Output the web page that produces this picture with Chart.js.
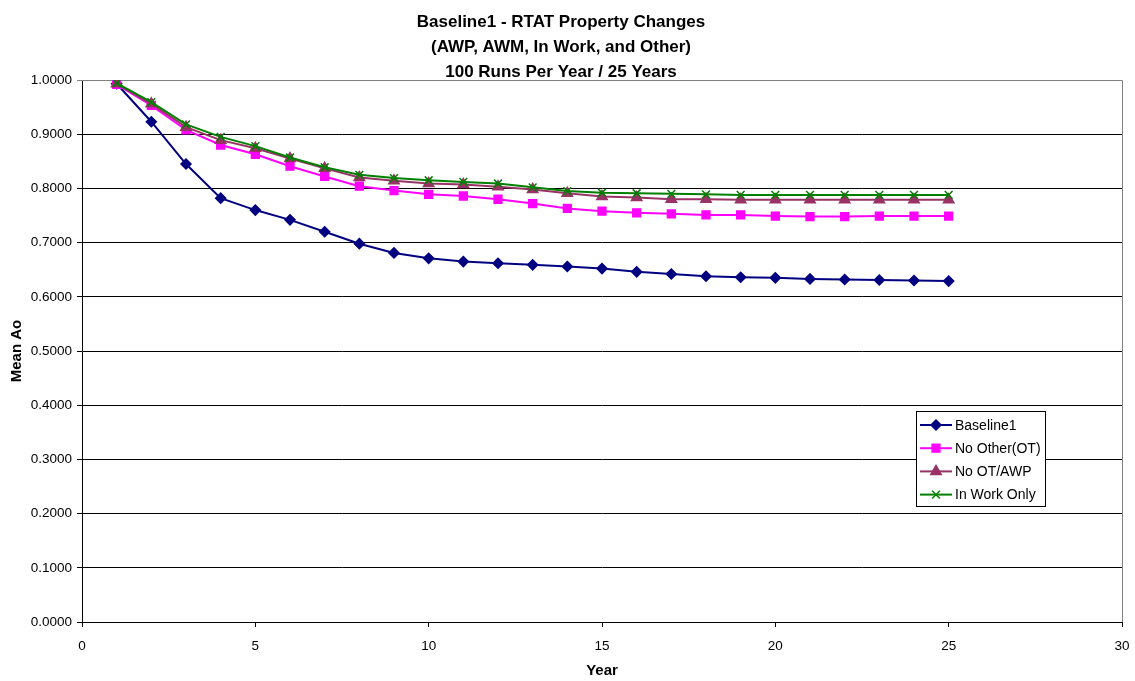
<!DOCTYPE html>
<html>
<head>
<meta charset="utf-8">
<title>Baseline1 - RTAT Property Changes</title>
<script src="https://cdn.jsdelivr.net/npm/chart.js@4/dist/chart.umd.min.js"></script>
<style>
  html, body { margin: 0; padding: 0; background: #ffffff; }
  #wrap { width: 1135px; height: 681px; }
</style>
</head>
<body>
<div id="wrap"><canvas id="aoChart" width="1135" height="681"></canvas></div>
<script>
// Mean Ao per simulation year, one array per scenario
const years = [1, 2, 3, 4, 5, 6, 7, 8, 9, 10, 11, 12, 13, 14, 15, 16, 17, 18, 19, 20, 21, 22, 23, 24, 25];
const baseline1 = [0.993, 0.923, 0.845, 0.782, 0.760, 0.742, 0.720, 0.698, 0.681, 0.671, 0.665, 0.662, 0.659,
  0.656, 0.652, 0.646, 0.642, 0.638, 0.636, 0.635, 0.633, 0.632, 0.631, 0.630, 0.629];
const noOther = [0.992, 0.953, 0.908, 0.880, 0.863, 0.841, 0.822, 0.804, 0.796, 0.789, 0.786, 0.780, 0.772,
  0.763, 0.758, 0.755, 0.753, 0.751, 0.751, 0.749, 0.748, 0.748, 0.749, 0.749, 0.749];
const noOtAwp = [0.993, 0.956, 0.913, 0.889, 0.874, 0.855, 0.837, 0.820, 0.814, 0.809, 0.807, 0.803, 0.798,
  0.791, 0.785, 0.783, 0.780, 0.780, 0.779, 0.779, 0.779, 0.779, 0.779, 0.779, 0.779];
const inWorkOnly = [0.994, 0.959, 0.918, 0.895, 0.878, 0.857, 0.839, 0.825, 0.819, 0.815, 0.812, 0.809, 0.802,
  0.795, 0.792, 0.791, 0.790, 0.789, 0.788, 0.788, 0.788, 0.788, 0.788, 0.788, 0.788];

const seriesNames = ["Baseline1", "No Other(OT)", "No OT/AWP", "In Work Only"];
const titleLines = [
  "Baseline1 - RTAT Property Changes",
  "(AWP, AWM, In Work, and Other)",
  "100 Runs Per Year / 25 Years",
];

function toPoints(values) {
  return values.map(function (v, i) {
    return { x: years[i], y: v };
  });
}

// gray frame on the top and right of the plot area
const plotFrame = {
  id: "plotFrame",
  beforeDatasetsDraw(chart) {
    const { ctx, chartArea: a } = chart;
    ctx.save();
    ctx.strokeStyle = "#808080";
    ctx.lineWidth = 1;
    ctx.beginPath();
    ctx.moveTo(a.left, a.top + 0.5);
    ctx.lineTo(a.right + 0.5, a.top + 0.5);
    ctx.lineTo(a.right + 0.5, a.bottom);
    ctx.stroke();
    ctx.restore();
  },
};

// boxed legend sitting inside the plot area, lower right
const boxLegend = {
  id: "boxLegend",
  afterDraw(chart) {
    const ctx = chart.ctx;
    const x = 916, y = 411, w = 129, h = 95, row = 23.2;
    ctx.save();
    ctx.fillStyle = "#ffffff";
    ctx.fillRect(x, y, w, h);
    ctx.strokeStyle = "#000000";
    ctx.lineWidth = 1;
    ctx.strokeRect(x + 0.5, y + 0.5, w, h);
    ctx.font = "14px 'Liberation Sans', Arial, sans-serif";
    ctx.textBaseline = "middle";
    chart.data.datasets.forEach(function (ds, i) {
      const cy = y + 14 + i * row;
      ctx.strokeStyle = ds.borderColor;
      ctx.lineWidth = 2;
      ctx.beginPath();
      ctx.moveTo(x + 4, cy);
      ctx.lineTo(x + 36, cy);
      ctx.stroke();
      ctx.fillStyle = ds.pointBackgroundColor;
      ctx.strokeStyle = ds.pointBorderColor;
      ctx.lineWidth = ds.pointBorderWidth;
      Chart.helpers.drawPoint(ctx, {
        pointStyle: ds.pointStyle,
        radius: ds.pointRadius,
        rotation: 0,
        borderWidth: ds.pointBorderWidth,
      }, x + 20, cy);
      ctx.fillStyle = "#000000";
      ctx.fillText(ds.label, x + 39, cy + 1);
    });
    ctx.restore();
  },
};

function makeSeries(label, values, color, style, radius, order) {
  return {
    label: label,
    data: toPoints(values),
    borderColor: color,
    backgroundColor: color,
    borderWidth: 2,
    pointStyle: style,
    pointRadius: radius,
    pointBackgroundColor: color,
    pointBorderColor: color,
    pointBorderWidth: 1.5,
    tension: 0,
    order: order,
  };
}

function initChart() {
  const font = "'Liberation Sans', Arial, sans-serif";
  const el = document.getElementById("aoChart");
  new Chart(el.getContext("2d"), {
    type: "line",
    data: {
      datasets: [
        makeSeries(seriesNames[0], baseline1, "#000080", "rectRot", 5, 3),
        makeSeries(seriesNames[1], noOther, "#FF00FF", "rect", 5.5, 2),
        makeSeries(seriesNames[2], noOtAwp, "#993366", "triangle", 6, 1),
        makeSeries(seriesNames[3], inWorkOnly, "#008000", "crossRot", 5.5, 0),
      ],
    },
    options: {
      responsive: false,
      animation: false,
      devicePixelRatio: 1,
      layout: { padding: { left: 0, right: 13, top: 0, bottom: 0 } },
      plugins: {
        legend: { display: false },
        tooltip: { enabled: false },
        title: {
          display: true,
          text: titleLines,
          color: "#000000",
          font: { family: font, size: 17, weight: "bold", lineHeight: "25px" },
          padding: { top: 9.5, bottom: -4.5 },
        },
      },
      scales: {
        x: {
          type: "linear",
          min: 0,
          max: 30,
          afterFit: function (scale) {
            scale.height = 59;
            scale.paddingLeft = 0;
            scale.paddingRight = 0;
          },
          ticks: {
            stepSize: 5,
            color: "#000000",
            padding: 11,
            font: { family: font, size: 13.5 },
          },
          grid: { drawOnChartArea: false, drawTicks: true, tickLength: 5, color: "#000000" },
          border: { display: true, color: "#000000", width: 1 },
          title: {
            display: true,
            text: "Year",
            color: "#000000",
            font: { family: font, size: 15, weight: "bold", lineHeight: 1.2 },
            padding: { top: 0, bottom: 1 },
          },
        },
        y: {
          min: 0,
          max: 1,
          afterFit: function (scale) {
            scale.width = 82;
            scale.paddingTop = 0;
            scale.paddingBottom = 0;
          },
          ticks: {
            stepSize: 0.1,
            color: "#000000",
            padding: 5,
            font: { family: font, size: 13.5 },
            callback: function (value) {
              return value.toFixed(4);
            },
          },
          grid: {
            tickLength: 5,
            color: function (c) {
              return c.tick && c.tick.value === 1 ? "#808080" : "#000000";
            },
          },
          border: { display: true, color: "#000000", width: 1 },
          title: {
            display: true,
            text: "Mean Ao",
            color: "#000000",
            font: { family: font, size: 15, weight: "bold", lineHeight: 1.2 },
            padding: { top: 8, bottom: 0 },
          },
        },
      },
    },
    plugins: [plotFrame, boxLegend],
  });
}

if (document.readyState === "loading") {
  document.addEventListener("DOMContentLoaded", initChart);
} else {
  initChart();
}
</script>
</body>
</html>
